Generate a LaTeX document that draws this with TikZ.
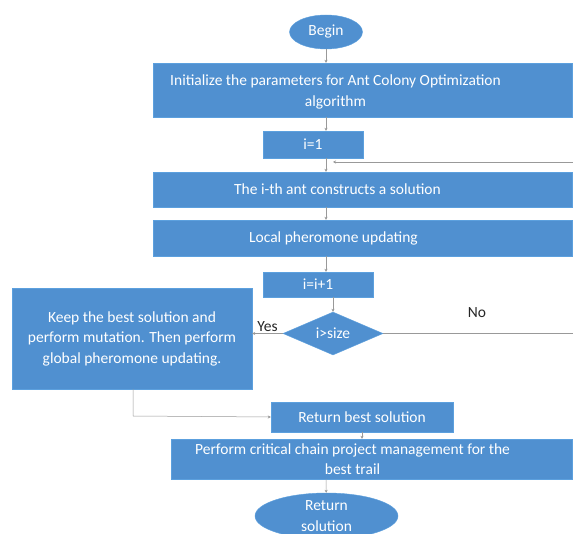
\documentclass[tikz,border=0pt]{standalone}
\usepackage{fontspec}
\setmainfont{Carlito}
\usepackage{tikz}
\usetikzlibrary{positioning, arrows.meta, shapes.geometric}
\definecolor{boxblue}{RGB}{80,144,208}
\definecolor{edgeblue}{RGB}{92,160,222}

\begin{document}
\begin{tikzpicture}[x=1pt, y=-1pt, font=\fontsize{15.5}{20.5}\selectfont,
	blk/.style={draw=edgeblue, fill=boxblue, text=white, inner sep=1pt, align=center},
	term/.style={blk, ellipse, inner sep=0pt},
	cond/.style={blk, diamond, inner sep=0pt},
	txt/.style={text=white, align=center, inner sep=0pt},
	flow/.style={draw=gray!80, line width=0.5pt, -{Stealth[length=3pt, width=3pt]}}]
		\clip (0,0) rectangle (573,534);
		\useasboundingbox (0,0) rectangle (573,534);
		\fill[white] (0,0) rectangle (573,534);

		% Main column
		\node (begin) at (326,32) [term, minimum width=73pt, minimum height=34pt] {Begin};
		\node (init) at (362.5,90) [blk, minimum width=419pt, minimum height=54pt,
			label={[txt, xshift=-27pt, yshift=-2pt]center:{Initialize the parameters for Ant Colony Optimization\\algorithm}}] {};
		\node (ione) at (313,144.5) [blk, minimum width=100pt, minimum height=27pt] {i=1};
		\node (ant) at (362.5,189.5) [blk, minimum width=419pt, minimum height=35pt,
			label={[txt, xshift=-25pt]center:{The i-th ant constructs a solution}}] {};
		\node (local) at (362.5,238) [blk, minimum width=419pt, minimum height=36pt,
			label={[txt, xshift=-29pt]center:{Local pheromone updating}}] {};
		\node (incr) at (318,284.5) [blk, minimum width=110pt, minimum height=25pt] {i=i+1};
		\node (dec) at (333,333.5) [cond, minimum width=100pt, minimum height=43pt, aspect=2.3] {i>size};

		% Yes branch
		\node (keep) at (132,338.5) [blk, minimum width=240pt, minimum height=101pt] {Keep the best solution and\\perform mutation. Then perform\\global pheromone updating.};
		\node (best) at (362,417) [blk, minimum width=182pt, minimum height=30pt] {Return best solution};
		\node (cpm) at (371.5,459) [blk, minimum width=401pt, minimum height=40pt,
			label={[txt, xshift=-19pt]center:{Perform critical chain project management for the\\best trail}}] {};
		\node (ret) at (326.5,516) [term, minimum width=143pt, minimum height=46pt] {Return\\solution};

		\coordinate (loop) at (326,162);
		\coordinate (farA) at (600,333.5);
		\coordinate (farB) at (600,162);
		\coordinate (bend) at (133,416);

		\draw[flow] (begin) -- (init.north -| begin);
		\draw[flow] (init.south -| begin) -- (ione.north -| begin);
		\draw[flow] (ione.south -| begin) -- (ant.north -| begin);
		\draw[flow] (ant.south -| begin) -- (local.north -| begin);
		\draw[flow] (local.south -| begin) -- (incr.north -| begin);
		\draw[flow] (incr.south -| dec) -- (dec);
		\draw[flow] (dec.east) -- (farA) -- (farB) -- ([xshift=7pt]loop);
		\node (no) at (477,313) [text=black!85] {No};
		\draw[flow] (dec.west) -- (dec.west -| keep.east) node (yes) [pos=0.5, above=-2pt, text=black!85] {Yes};
		\draw[flow] (keep.south -| bend) -- (bend) -- (best.west);
		\draw[flow] (best.south -| best) -- (cpm.north -| best);
		\draw[flow] (cpm.south -| begin) -- (ret);
	\end{tikzpicture}
\end{document}
